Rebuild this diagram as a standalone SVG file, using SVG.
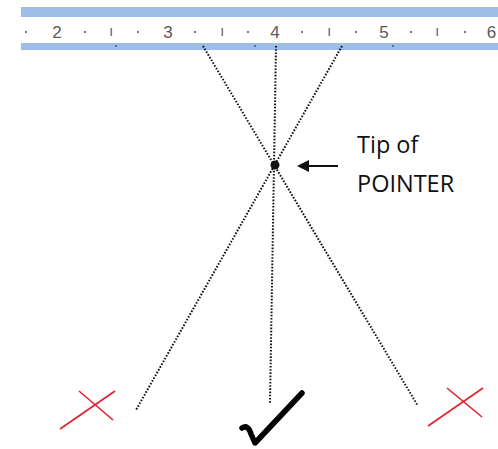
<svg xmlns="http://www.w3.org/2000/svg" width="498" height="449" viewBox="0 0 498 449">
<style>
.band{fill:#9ebde8}
.rt{font-family:"Liberation Sans",Arial,sans-serif;font-size:17px;fill:#5a5a5a}
.rd{fill:#777}
.dot{fill:none;stroke:#111;stroke-width:2;stroke-dasharray:1.6 1.6}
.x{stroke:#e3202e;stroke-width:1.6;fill:none}
.lbl{font-family:"Open Sans","Liberation Sans",sans-serif;font-size:23.5px;fill:#111}
</style>
<rect width="498" height="449" fill="#fff"/>
<g id="ruler">
<rect class="band" x="21" y="7" width="477" height="10"/>
<rect class="band" x="21" y="43" width="477" height="7"/>
<g fill="#5a7090"><rect x="115" y="45" width="2" height="2"/><rect x="254" y="45" width="2" height="2"/><rect x="392" y="45" width="2" height="2"/></g>
<g class="rt" text-anchor="middle">
<text x="57" y="38">2</text><text x="168" y="38">3</text><text x="275" y="38">4</text><text x="384" y="38">5</text><text x="491.5" y="38">6</text>
</g>
<g class="rd">
<rect x="25" y="31" width="2" height="2"/><rect x="84" y="31" width="2" height="2"/><rect x="137" y="31" width="2" height="2"/>
<rect x="194" y="31" width="2" height="2"/><rect x="247" y="31" width="2" height="2"/><rect x="301" y="31" width="2" height="2"/>
<rect x="355" y="31" width="2" height="2"/><rect x="410" y="31" width="2" height="2"/><rect x="464" y="31" width="2" height="2"/>
<rect x="110.5" y="28" width="1.6" height="8"/><rect x="221.5" y="28" width="1.6" height="8"/><rect x="328.5" y="28" width="1.6" height="8"/><rect x="436.5" y="28" width="1.6" height="8"/>
</g>
</g>
<g id="connectors">
<line class="dot" x1="203" y1="46" x2="418" y2="406"/>
<line class="dot" x1="342" y1="46" x2="136" y2="410"/>
<line class="dot" x1="276" y1="46" x2="270" y2="403"/>
<line x1="338" y1="166" x2="306" y2="166" stroke="#111" stroke-width="2"/>
<polygon points="297,166 309,160 309,172" fill="#111"/>
</g>
<g id="tip">
<circle cx="275" cy="165" r="4.5" fill="#111"/>
</g>
<g id="label">
<text class="lbl" x="357" y="153">Tip of</text>
<text class="lbl" x="357" y="192">POINTER</text>
</g>
<g id="cross-left">
<line class="x" x1="60" y1="429" x2="115" y2="391"/>
<line class="x" x1="79" y1="391" x2="113" y2="420"/>
</g>
<g id="cross-right">
<line class="x" x1="428" y1="426" x2="483" y2="388"/>
<line class="x" x1="447" y1="388" x2="482" y2="417"/>
</g>
<g id="check">
<path d="M242,428 Q248,424 251,434 L255,443 L302,393" fill="none" stroke="#000" stroke-width="5.5" stroke-linecap="round" stroke-linejoin="round"/>
</g>
</svg>
